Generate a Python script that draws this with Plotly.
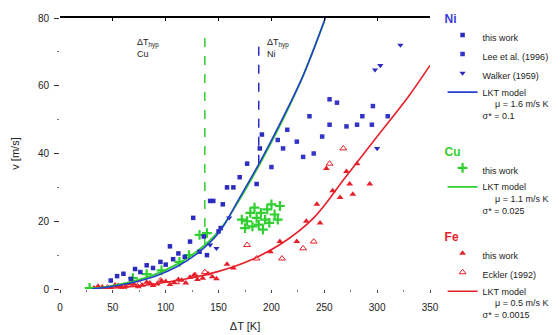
import plotly.graph_objects as go

# ---- measured dendrite growth velocities v(ΔT) ----
ni_this_dT = [48, 54, 60, 67, 71, 76, 82, 88, 95, 100, 104, 107, 112, 118, 123, 126, 132, 136,
              139, 142, 145, 150, 152, 154, 158, 164, 170, 177, 186, 189, 191]
ni_this_v = [2.5, 3.8, 4.5, 3.0, 5.9, 5.0, 7.0, 6.2, 8.0, 7.2, 12.6, 8.8, 10.5, 9.5, 14.0, 21.0,
             11.0, 15.5, 10.0, 26.0, 26.0, 17.0, 18.0, 25.0, 30.0, 30.0, 33.0, 37.0, 31.0, 41.5, 45.6]

ni_lee_dT = [200, 206, 211, 215, 224, 230, 236, 240, 248, 255, 255, 262, 271, 281, 286, 295, 296, 310]
ni_lee_v = [36.0, 44.0, 41.5, 47.0, 43.5, 39.0, 51.0, 40.0, 45.0, 56.0, 48.5, 55.0, 48.0, 48.5,
            51.0, 48.5, 54.0, 51.0]

ni_walker_dT = [142, 148, 160, 298, 300, 303, 322]
ni_walker_v = [13.0, 12.0, 21.0, 64.7, 41.5, 66.0, 72.0]

cu_this_dT = [28, 69, 82, 96, 113, 122, 132, 139, 172, 175, 177, 180, 182, 184, 186, 188, 190,
              192, 194, 196, 198, 200, 203, 206, 208]
cu_this_v = [0.3, 3.2, 4.4, 5.5, 8.0, 10.0, 16.0, 16.5, 20.5, 18.0, 20.0, 22.5, 18.5, 24.0, 21.0,
             19.0, 22.5, 17.5, 20.5, 23.5, 19.5, 25.0, 22.0, 20.5, 24.5]

fe_this_dT = [32, 36, 40, 44, 48, 52, 55, 58, 62, 66, 70, 74, 78, 82, 85, 88, 92, 96, 100, 104,
              108, 112, 115, 119, 123, 127, 130, 135, 140, 144, 148, 158, 164, 199, 208, 224, 233,
              243, 246, 252, 258, 265, 271, 274, 277, 281, 293]
fe_this_v = [0.3, 0.8, 0.6, 0.2, 0.4, 1.2, 1.0, 0.5, 0.8, 1.5, 1.4, 0.7, 1.1, 2.0, 1.8, 1.0, 1.5,
             2.4, 2.2, 1.3, 1.9, 2.8, 2.6, 1.8, 3.5, 4.2, 2.8, 3.2, 4.5, 3.6, 3.0, 7.3, 6.2, 11.0,
             14.0, 14.0, 20.0, 25.0, 19.5, 35.6, 29.0, 27.0, 34.7, 31.0, 28.0, 37.0, 31.0]

fe_eckler_dT = [45, 60, 75, 95, 110, 128, 137, 177, 186, 210, 230, 240, 255, 268]
fe_eckler_v = [0.4, 0.5, 1.6, 2.5, 2.0, 4.0, 5.0, 13.0, 9.0, 9.0, 12.0, 14.0, 37.0, 41.5]

# ---- LKT model curves ----
ni_lkt_dT = [30, 50, 70, 90, 110, 130, 150, 170, 190, 210, 230, 251]
ni_lkt_v = [0, 0.8, 2.0, 3.8, 6.5, 10.5, 16.5, 27.0, 38.0, 50.0, 63.0, 80.0]

cu_lkt_dT = [30, 50, 70, 90, 110, 130, 150, 170, 190, 210, 230, 250]
cu_lkt_v = [0, 1.0, 2.3, 4.3, 7.2, 11.2, 17.0, 26.5, 37.5, 49.5, 63.0, 79.0]

fe_lkt_dT = [30, 60, 90, 120, 150, 180, 210, 240, 270, 300, 330, 350]
fe_lkt_v = [0, 0.5, 1.5, 3.0, 5.2, 8.5, 13.5, 21.0, 33.0, 45.0, 57.0, 66.0]

# ---- hypercooling limits ----
cu_hyp_dT = [137, 137]
cu_hyp_v = [13, 74.5]
ni_hyp_dT = [188, 188]
ni_hyp_v = [37, 74]

x_ticks = [0, 50, 100, 150, 200, 250, 300, 350]
y_ticks = [0, 20, 40, 60, 80]

BLUE = "#2b2bbd"
BLUE_LINE = "#2540c8"
GREEN = "#2fd02f"
RED = "#e6202a"
FONT = "Liberation Sans, Arial, sans-serif"
NB = "\u00a0"

fig = go.Figure()

# hypercooling limit markers
fig.add_trace(go.Scatter(x=cu_hyp_dT, y=cu_hyp_v, mode="lines", showlegend=False,
                         line=dict(color=GREEN, width=1.5, dash="dash")))
fig.add_trace(go.Scatter(x=ni_hyp_dT, y=ni_hyp_v, mode="lines", showlegend=False,
                         line=dict(color=BLUE, width=1.5, dash="dash")))

# Fe
fig.add_trace(go.Scatter(x=fe_this_dT, y=fe_this_v, mode="markers", name="this work",
                         legend="legend3",
                         marker=dict(symbol="triangle-up", size=6, color=RED)))
fig.add_trace(go.Scatter(x=fe_eckler_dT, y=fe_eckler_v, mode="markers", name="Eckler (1992)",
                         legend="legend3",
                         marker=dict(symbol="triangle-up-open", size=6, color=RED)))
fig.add_trace(go.Scatter(x=fe_lkt_dT, y=fe_lkt_v, mode="lines", line_shape="spline",
                         name="LKT model<br>" + NB * 5 + "μ = 0.5 m/s K<br>σ* = 0.0015",
                         legend="legend3", line=dict(color=RED, width=1.6)))

# Cu
fig.add_trace(go.Scatter(x=cu_this_dT, y=cu_this_v, mode="markers", name="this work",
                         legend="legend2",
                         marker=dict(symbol="cross-thin", size=7, color=GREEN,
                                     line=dict(color=GREEN, width=2.2))))
fig.add_trace(go.Scatter(x=cu_lkt_dT, y=cu_lkt_v, mode="lines", line_shape="spline",
                         name="LKT model<br>" + NB * 5 + "μ = 1.1 m/s K<br>σ* = 0.025",
                         legend="legend2", line=dict(color=GREEN, width=1.8)))

# Ni
fig.add_trace(go.Scatter(x=ni_this_dT, y=ni_this_v, mode="markers", name="this work",
                         marker=dict(symbol="square", size=4.5, color=BLUE)))
fig.add_trace(go.Scatter(x=ni_lee_dT, y=ni_lee_v, mode="markers", name="Lee et al. (1996)",
                         marker=dict(symbol="square", size=4.5, color="#3434c8")))
fig.add_trace(go.Scatter(x=ni_walker_dT, y=ni_walker_v, mode="markers", name="Walker (1959)",
                         marker=dict(symbol="triangle-down", size=5.5, color=BLUE)))
fig.add_trace(go.Scatter(x=ni_lkt_dT, y=ni_lkt_v, mode="lines", line_shape="spline",
                         name="LKT model<br>" + NB * 5 + "μ = 1.6 m/s K<br>σ* = 0.1",
                         line=dict(color=BLUE_LINE, width=1.6)))

# second x-axis carries the heavy frame line along the top
fig.add_trace(go.Scatter(x=[None], y=[None], xaxis="x2", showlegend=False))

legend_common = dict(font=dict(family=FONT, size=9, color="#222"), bgcolor="rgba(0,0,0,0)",
                     itemwidth=30, tracegroupgap=0, valign="top", xanchor="left", yanchor="top",
                     traceorder="normal")

LEG_X = 1.034

fig.update_layout(
    width=560, height=335,
    margin=dict(l=60, r=130, t=18, b=46, autoexpand=False),
    paper_bgcolor="white", plot_bgcolor="white",
    font=dict(family=FONT, size=10, color="#222"),
    xaxis=dict(range=[0, 350], tickvals=x_ticks, showgrid=False, zeroline=False,
               showline=False, ticks="outside", ticklen=3, tickcolor="#444",
               ticklabelstandoff=6,
               minor=dict(dtick=25, ticks="outside", ticklen=2, tickcolor="#777"),
               title=dict(text="ΔT [K]", font=dict(size=11), standoff=10)),
    xaxis2=dict(range=[0, 350], overlaying="x", side="top", showline=True, linecolor="black",
                linewidth=2, tickvals=x_ticks, ticks="inside", ticklen=3, tickcolor="black",
                showticklabels=False, showgrid=False, zeroline=False),
    yaxis=dict(range=[0, 80], tickvals=y_ticks, showgrid=False, zeroline=False,
               showline=False, ticks="outside", ticklen=5, tickcolor="#333",
               ticklabelstandoff=3,
               minor=dict(dtick=10, ticks="outside", ticklen=2, tickcolor="#777"),
               title=dict(text="v [m/s]", font=dict(size=11), standoff=16)),
    legend=dict(x=LEG_X, y=1.04, title=dict(text="<b>Ni</b>", font=dict(size=12, color="#3b3bd8")),
                **legend_common),
    legend2=dict(x=LEG_X, y=0.55, title=dict(text="<b>Cu</b>", font=dict(size=12, color=GREEN)),
                 **legend_common),
    legend3=dict(x=LEG_X, y=0.235, title=dict(text="<b>Fe</b>", font=dict(size=12, color=RED)),
                 **legend_common),
    annotations=[
        dict(x=71, y=71, xref="x", yref="y", text="ΔT<sub>hyp</sub><br>Cu", showarrow=False,
             xanchor="left", yanchor="middle", align="left", font=dict(size=9)),
        dict(x=194, y=71, xref="x", yref="y", text="ΔT<sub>hyp</sub><br>Ni", showarrow=False,
             xanchor="left", yanchor="middle", align="left", font=dict(size=9)),
    ],
)

fig.write_html("out.html")
